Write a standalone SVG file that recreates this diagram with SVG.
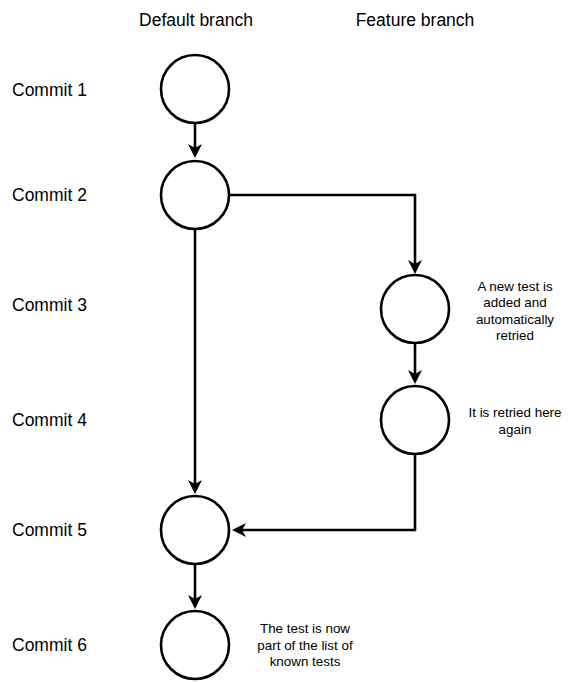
<svg xmlns="http://www.w3.org/2000/svg" width="570" height="682" viewBox="0 0 570 682">
<style>
.bg{fill:#ffffff}
.node circle{fill:#ffffff;stroke:#000000;stroke-width:2.6}
.lbl{font-family:"Liberation Sans",Arial,Helvetica,sans-serif;font-size:17.5px;fill:#000000;dominant-baseline:central}
.note{font-family:"Liberation Sans",Arial,Helvetica,sans-serif;font-size:13.4px;fill:#000000;text-anchor:middle;dominant-baseline:central}
.edge{fill:none;stroke:#000000;stroke-width:2.6;stroke-linejoin:miter}
</style>
<defs>
<marker id="arr" markerUnits="userSpaceOnUse" markerWidth="16" markerHeight="16" refX="4" refY="7" orient="auto" viewBox="0 0 16 14">
<path d="M0,0 L14,7 L0,14 L4,7 Z" fill="#000000"/>
</marker>
</defs>
<rect class="bg" x="0" y="0" width="570" height="682"/>
<g id="headers">
<text class="lbl" x="196" y="20" text-anchor="middle">Default branch</text>
<text class="lbl" x="415" y="20" text-anchor="middle">Feature branch</text>
</g>
<g id="commit-labels">
<text class="lbl" x="12" y="90">Commit 1</text>
<text class="lbl" x="12" y="195">Commit 2</text>
<text class="lbl" x="12" y="305">Commit 3</text>
<text class="lbl" x="12" y="420">Commit 4</text>
<text class="lbl" x="12" y="530">Commit 5</text>
<text class="lbl" x="12" y="645">Commit 6</text>
</g>
<g id="connectors">
<path class="edge" d="M195,123 L195,148" marker-end="url(#arr)"/>
<path class="edge" d="M229,195 L415,195 L415,264" marker-end="url(#arr)"/>
<path class="edge" d="M195,229 L195,484" marker-end="url(#arr)"/>
<path class="edge" d="M415,343 L415,374" marker-end="url(#arr)"/>
<path class="edge" d="M415,454 L415,530 L242,530" marker-end="url(#arr)"/>
<path class="edge" d="M195,564 L195,599" marker-end="url(#arr)"/>
</g>
<g id="commit1" class="node"><circle cx="195" cy="89" r="34"/></g>
<g id="commit2" class="node"><circle cx="195" cy="195" r="34"/></g>
<g id="commit3" class="node"><circle cx="415" cy="309" r="34"/></g>
<g id="commit4" class="node"><circle cx="415" cy="420" r="34"/></g>
<g id="commit5" class="node"><circle cx="195" cy="530" r="34"/></g>
<g id="commit6" class="node"><circle cx="195" cy="645" r="34"/></g>
<g id="note3">
<text class="note" x="515" y="286">A new test is</text>
<text class="note" x="515" y="302.5">added and</text>
<text class="note" x="515" y="319">automatically</text>
<text class="note" x="515" y="335.5">retried</text>
</g>
<g id="note4">
<text class="note" x="515" y="412.5">It is retried here</text>
<text class="note" x="515" y="429">again</text>
</g>
<g id="note6">
<text class="note" x="305" y="628.5">The test is now</text>
<text class="note" x="305" y="645">part of the list of</text>
<text class="note" x="305" y="661.5">known tests</text>
</g>
</svg>
